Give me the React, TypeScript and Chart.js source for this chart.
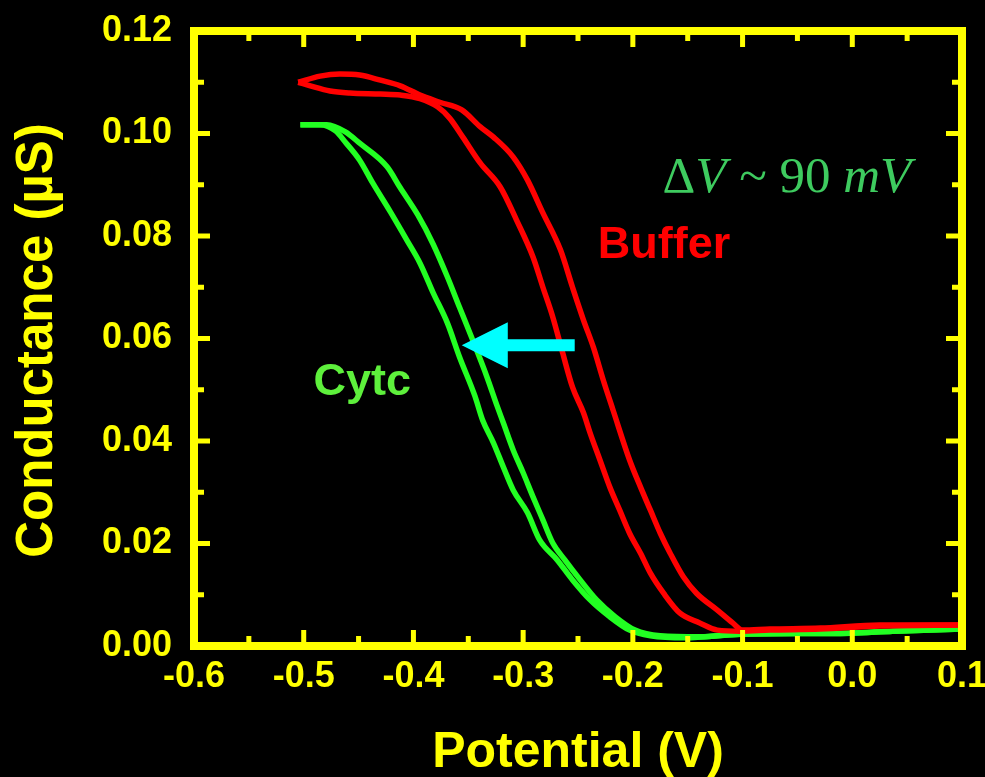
import React, { useEffect, useRef } from 'react';
import { Chart, registerables } from 'chart.js';

Chart.register(...registerables);

// ---- Data ----
const bufferUpperX = [-0.505, -0.485, -0.467, -0.449, -0.430, -0.412, -0.394, -0.376, -0.356, -0.339, -0.327, -0.309, -0.296, -0.282, -0.266, -0.255, -0.245, -0.236, -0.227, -0.218, -0.203, -0.193, -0.184, -0.175, -0.166, -0.154, -0.142, -0.123, -0.109, -0.100, -0.075, -0.029, 0.025, 0.1];
const bufferUpperY = [0.1100, 0.1112, 0.1116, 0.1114, 0.1104, 0.1093, 0.1075, 0.1061, 0.1046, 0.1013, 0.0993, 0.0954, 0.0909, 0.0845, 0.0773, 0.0700, 0.0636, 0.0583, 0.0519, 0.0460, 0.0363, 0.0310, 0.0265, 0.0220, 0.0181, 0.0135, 0.0103, 0.0070, 0.0045, 0.0031, 0.0033, 0.0035, 0.0041, 0.0041];

const bufferLowerX = [-0.505, -0.494, -0.476, -0.458, -0.430, -0.412, -0.394, -0.378, -0.367, -0.355, -0.339, -0.321, -0.306, -0.291, -0.282, -0.273, -0.264, -0.255, -0.245, -0.239, -0.230, -0.221, -0.212, -0.203, -0.193, -0.184, -0.172, -0.157, -0.139, -0.123, -0.102, -0.075, -0.029, 0.025, 0.1];
const bufferLowerY = [0.1100, 0.1093, 0.1083, 0.1079, 0.1077, 0.1075, 0.1068, 0.1052, 0.1030, 0.0993, 0.0942, 0.0896, 0.0831, 0.0759, 0.0700, 0.0642, 0.0572, 0.0505, 0.0455, 0.0416, 0.0363, 0.0310, 0.0265, 0.0220, 0.0181, 0.0142, 0.0103, 0.0064, 0.0045, 0.0031, 0.0029, 0.0031, 0.0033, 0.0039, 0.0041];

const cytcLeftX = [-0.503, -0.485, -0.471, -0.462, -0.449, -0.437, -0.421, -0.406, -0.394, -0.382, -0.369, -0.358, -0.344, -0.337, -0.327, -0.318, -0.309, -0.296, -0.285, -0.269, -0.255, -0.239, -0.221, -0.203, -0.184, -0.152, -0.102, -0.002, 0.037, 0.1];
const cytcLeftY = [0.1017, 0.1017, 0.1005, 0.0983, 0.0948, 0.0903, 0.0847, 0.0792, 0.0747, 0.0689, 0.0630, 0.0564, 0.0488, 0.0441, 0.0396, 0.0349, 0.0304, 0.0260, 0.0207, 0.0168, 0.0129, 0.0090, 0.0057, 0.0031, 0.0020, 0.0016, 0.0023, 0.0025, 0.0029, 0.0033];

const cytcRightX = [-0.503, -0.479, -0.462, -0.449, -0.424, -0.412, -0.396, -0.382, -0.369, -0.358, -0.346, -0.333, -0.324, -0.318, -0.309, -0.300, -0.291, -0.282, -0.273, -0.262, -0.248, -0.233, -0.216, -0.198, -0.175, -0.139, -0.102, -0.002, 0.037, 0.1];
const cytcRightY = [0.1017, 0.1017, 0.1003, 0.0981, 0.0935, 0.0894, 0.0841, 0.0784, 0.0720, 0.0661, 0.0597, 0.0525, 0.0470, 0.0435, 0.0382, 0.0338, 0.0291, 0.0246, 0.0201, 0.0168, 0.0129, 0.0090, 0.0057, 0.0031, 0.0020, 0.0018, 0.0023, 0.0025, 0.0029, 0.0033];

const xTicks = [-0.6, -0.5, -0.4, -0.3, -0.2, -0.1, 0.0, 0.1];
const xTickLabels = ['-0.6', '-0.5', '-0.4', '-0.3', '-0.2', '-0.1', '0.0', '0.1'];
const xMinorTicks = [-0.55, -0.45, -0.35, -0.25, -0.15, -0.05, 0.05];
const yTicks = [0, 0.02, 0.04, 0.06, 0.08, 0.10, 0.12];
const yTickLabels = ['0.00', '0.02', '0.04', '0.06', '0.08', '0.10', '0.12'];
const yMinorTicks = [0.01, 0.03, 0.05, 0.07, 0.09, 0.11];

const xTitle = 'Potential (V)';
const yTitle = 'Conductance (µS)';
const bufferLabel = 'Buffer';
const cytcLabel = 'Cytc';

// ---- Styles ----
const YELLOW = '#FFFF00';
const RED = '#FF0000';
const GREEN = '#22FF22';
const CYTC_TEXT = '#5EF03C';
const DV_TEXT = '#3ECB5F';
const CYAN = '#00FFFF';
const SANS = "'Liberation Sans', Arial, sans-serif";
const SERIF = "'Liberation Serif', 'Times New Roman', serif";

const pts = (xs: number[], ys: number[]) => xs.map((x, i) => ({ x, y: ys[i] }));

const decorPlugin = {
  id: 'decor',
  beforeDraw(chart: any) {
    const { ctx, width, height } = chart;
    ctx.save();
    ctx.fillStyle = '#000';
    ctx.fillRect(0, 0, width, height);
    ctx.restore();
  },
  afterDatasetsDraw(chart: any) {
    const { ctx, chartArea: a } = chart;
    const xs = chart.scales.x;
    const ys = chart.scales.y;
    ctx.save();
    ctx.strokeStyle = YELLOW;
    ctx.lineWidth = 8;
    ctx.strokeRect(a.left, a.top, a.right - a.left, a.bottom - a.top);
    ctx.fillStyle = YELLOW;
    const tw = 5;
    const edge = 4;
    const drawX = (v: number, len: number) => {
      const px = xs.getPixelForValue(v);
      ctx.fillRect(px - tw / 2, a.bottom - edge - len, tw, len + edge);
      ctx.fillRect(px - tw / 2, a.top, tw, len + edge);
    };
    const drawY = (v: number, len: number) => {
      const py = ys.getPixelForValue(v);
      ctx.fillRect(a.left, py - tw / 2, len + edge, tw);
      ctx.fillRect(a.right - edge - len, py - tw / 2, len + edge, tw);
    };
    xTicks.forEach((v) => drawX(v, 12));
    xMinorTicks.forEach((v) => drawX(v, 6));
    yTicks.forEach((v) => drawY(v, 12));
    yMinorTicks.forEach((v) => drawY(v, 6));
    ctx.restore();
  },
  afterDraw(chart: any) {
    const { ctx, chartArea: a } = chart;
    const xs = chart.scales.x;
    const ys = chart.scales.y;
    const X = (v: number) => xs.getPixelForValue(v);
    const Y = (v: number) => ys.getPixelForValue(v);
    ctx.save();

    ctx.fillStyle = YELLOW;
    ctx.font = `bold 50px ${SANS}`;
    ctx.textAlign = 'center';
    ctx.textBaseline = 'alphabetic';
    ctx.fillText(xTitle, (a.left + a.right) / 2, 767);

    ctx.save();
    ctx.translate(52, (a.top + a.bottom) / 2 + 2);
    ctx.rotate(-Math.PI / 2);
    ctx.font = `bold 51px ${SANS}`;
    ctx.textAlign = 'center';
    ctx.fillText(yTitle, 0, 0);
    ctx.restore();

    ctx.textAlign = 'left';
    ctx.fillStyle = RED;
    ctx.font = `bold 45px ${SANS}`;
    ctx.fillText(bufferLabel, X(-0.232), Y(0.0757));

    ctx.fillStyle = CYTC_TEXT;
    ctx.font = `bold 45px ${SANS}`;
    ctx.fillText(cytcLabel, X(-0.491), Y(0.049));

    ctx.fillStyle = DV_TEXT;
    let cx = X(-0.173);
    const by = Y(0.0886);
    const segs: [string, boolean][] = [
      ['Δ', false],
      ['V', true],
      [' ~ ', false],
      ['90', false],
      [' ', false],
      ['mV', true],
    ];
    segs.forEach(([t, it]) => {
      ctx.font = `${it ? 'italic ' : ''}51px ${SERIF}`;
      ctx.fillText(t, cx, by);
      cx += ctx.measureText(t).width;
    });

    const tailX = X(-0.253);
    const tipX = X(-0.356);
    const baseX = X(-0.314);
    const cy = Y(0.0587);
    ctx.fillStyle = CYAN;
    ctx.beginPath();
    ctx.moveTo(tailX, cy - 6);
    ctx.lineTo(baseX, cy - 6);
    ctx.lineTo(baseX, cy - 23);
    ctx.lineTo(tipX, cy);
    ctx.lineTo(baseX, cy + 23);
    ctx.lineTo(baseX, cy + 6);
    ctx.lineTo(tailX, cy + 6);
    ctx.closePath();
    ctx.fill();

    ctx.restore();
  },
};

export default function App() {
  const ref = useRef<HTMLCanvasElement | null>(null);

  useEffect(() => {
    if (!ref.current) return;
    const lineDs = (label: string, data: any[], color: string) => ({
      label,
      data,
      borderColor: color,
      backgroundColor: color,
      borderWidth: 5.5,
      pointRadius: 0,
      showLine: true,
      fill: false,
      cubicInterpolationMode: 'monotone',
    });
    const chart = new Chart(ref.current, {
      type: 'scatter',
      data: {
        datasets: [
          lineDs('Buffer (upper)', pts(bufferUpperX, bufferUpperY), RED),
          lineDs('Buffer (lower)', pts(bufferLowerX, bufferLowerY), RED),
          lineDs('Cytc (left)', pts(cytcLeftX, cytcLeftY), GREEN),
          lineDs('Cytc (right)', pts(cytcRightX, cytcRightY), GREEN),
        ],
      },
      options: {
        animation: false,
        responsive: false,
        devicePixelRatio: 1,
        layout: { padding: { left: 0, right: 23, top: 31, bottom: 0 } },
        plugins: {
          legend: { display: false },
          tooltip: { enabled: false },
        },
        scales: {
          x: {
            type: 'linear',
            min: -0.6,
            max: 0.1,
            grid: { display: false, drawTicks: false },
            border: { display: false },
            afterBuildTicks: (s: any) => {
              s.ticks = xTicks.map((v) => ({ value: v }));
            },
            afterFit: (s: any) => {
              s.height = 131;
              s.paddingLeft = 0;
              s.paddingRight = 0;
            },
            ticks: {
              autoSkip: false,
              maxRotation: 0,
              minRotation: 0,
              padding: 9,
              color: YELLOW,
              font: { family: SANS, size: 36, weight: 'bold' },
              callback: (_v: any, i: number) => xTickLabels[i],
            },
          },
          y: {
            type: 'linear',
            min: 0,
            max: 0.12,
            grid: { display: false, drawTicks: false },
            border: { display: false },
            afterBuildTicks: (s: any) => {
              s.ticks = yTicks.map((v) => ({ value: v }));
            },
            afterFit: (s: any) => {
              s.width = 194;
              s.paddingTop = 0;
              s.paddingBottom = 0;
            },
            ticks: {
              autoSkip: false,
              padding: 22,
              color: YELLOW,
              font: { family: SANS, size: 36, weight: 'bold' },
              callback: (_v: any, i: number) => yTickLabels[i],
            },
          },
        },
      } as any,
      plugins: [decorPlugin],
    });
    return () => chart.destroy();
  }, []);

  return (
    <div style={{ position: 'fixed', left: 0, top: 0, width: 985, height: 777, background: '#000' }}>
      <canvas ref={ref} width={985} height={777} style={{ display: 'block', width: 985, height: 777 }} />
    </div>
  );
}
